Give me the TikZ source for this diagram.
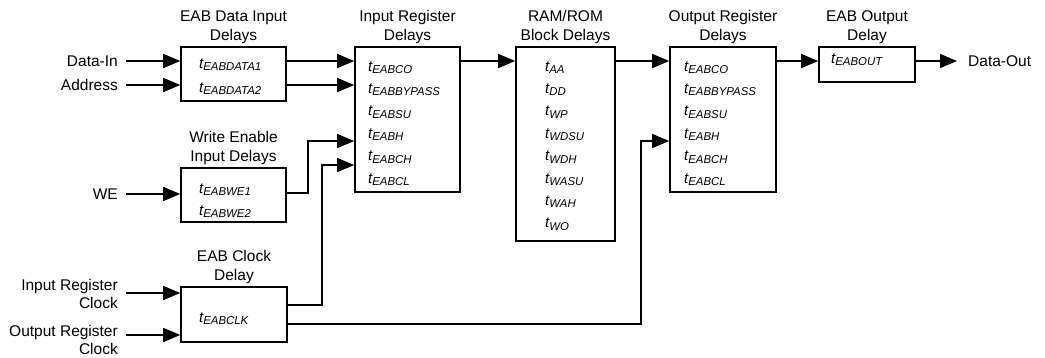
\documentclass[tikz,border=0pt]{standalone}
\usepackage{fontspec}
\setmainfont{Liberation Sans}
\usetikzlibrary{arrows.meta}
\newcommand{\tsb}[1]{{\fontsize{15}{15}\selectfont\itshape t}\raisebox{-2.5pt}{\fontsize{11.4}{11}\selectfont\itshape #1}}
\begin{document}
\begin{tikzpicture}[x=1pt,y=-1pt,
  box/.style={draw, line width=1.6pt, inner sep=0pt},
  ttl/.style={align=center, font=\fontsize{15.5}{18.5}\selectfont, anchor=south, inner sep=0pt, yshift=2.5pt},
  lbl/.style={font=\fontsize{15.5}{18.5}\selectfont, inner xsep=8pt, inner ysep=1pt},
  item/.style={inner sep=0pt, anchor=base west},
  arr/.style={line width=1.6pt, -{Triangle[length=17pt,width=14pt]}},
  wire/.style={line width=1.2pt, -{Triangle[length=17pt,width=14pt]}}]
\useasboundingbox (0,0) rectangle (1045,357);
% level coordinates
\coordinate (y61) at (0,61);
\coordinate (y85) at (0,85);
\coordinate (y141) at (0,141);
\coordinate (y165) at (0,165);
\coordinate (y193) at (0,193);
\coordinate (y293) at (0,293);
\coordinate (y305) at (0,305);
\coordinate (y324) at (0,324);
\coordinate (y335) at (0,335);
% boxes
\node[box, minimum width=105pt, minimum height=54pt] (din) at (233.5,74) {};
\node[box, minimum width=105pt, minimum height=145pt] (inreg) at (407.5,119.5) {};
\node[box, minimum width=99pt, minimum height=194pt] (ram) at (565.5,144) {};
\node[box, minimum width=106pt, minimum height=145pt] (outreg) at (723,119.5) {};
\node[box, minimum width=96pt, minimum height=35pt] (eabout) at (867,64.5) {};
\node[box, minimum width=105pt, minimum height=54pt] (we) at (233.5,195) {};
\node[box, minimum width=106pt, minimum height=55pt] (clk) at (234,314.5) {};
% titles
\node[ttl] (tdin) at (din.north) {EAB Data Input\\Delays};
\node[ttl] (tinreg) at (inreg.north) {Input Register\\Delays};
\node[ttl] (tram) at (ram.north) {RAM/ROM\\Block Delays};
\node[ttl] (toutreg) at (outreg.north) {Output Register\\Delays};
\node[ttl] (teabout) at (eabout.north) {EAB Output\\Delay};
\node[ttl] (twe) at (we.north) {Write Enable\\Input Delays};
\node[ttl] (tclk) at (clk.north) {EAB Clock\\Delay};
% items
\node[item] (d1) at (199,68) {\tsb{EABDATA1}};
\node[item] (d2) at (199,92) {\tsb{EABDATA2}};
\node[item] (w1) at (199,193) {\tsb{EABWE1}};
\node[item] (w2) at (199,215) {\tsb{EABWE2}};
\node[item] (c1) at (199,322) {\tsb{EABCLK}};
\node[item] (o1) at (831,63) {\tsb{EABOUT}};
\foreach \s [count=\i from 0] in {EABCO,EABBYPASS,EABSU,EABH,EABCH,EABCL}{
  \node[item] (ir\i) at (368,71+22.4*\i) {\tsb{\s}};
  \node[item] (or\i) at (684,71+22.4*\i) {\tsb{\s}};
}
\foreach \s [count=\i from 0] in {AA,DD,WP,WDSU,WDH,WASU,WAH,WO}{
  \node[item] (rm\i) at (545,71+22.4*\i) {\tsb{\s}};
}
% external labels
\node[lbl, anchor=east] (lin) at (126,61) {Data-In};
\node[lbl, anchor=east] (ladr) at (126,85) {Address};
\node[lbl, anchor=east] (lwe) at (126,194) {WE};
\node[lbl, anchor=east, align=right] (lirc) at (126,294) {Input Register\\Clock};
\node[lbl, anchor=east, align=right] (lorc) at (126,340) {Output Register\\Clock};
\node[lbl, anchor=west] (dout) at (960,61) {Data-Out};
% connectors
\draw[arr] (lin.east) -- (din.west |- lin.east);
\draw[arr] (ladr.east) -- (din.west |- ladr.east);
\draw[arr] (lwe.east) -- (we.west |- lwe.east);
\draw[arr] (lirc.east |- y293) -- (clk.west |- y293);
\draw[arr] (lorc.east |- y335) -- (clk.west |- y335);
\draw[arr] (din.east |- y61) -- (inreg.west |- y61);
\draw[arr] (din.east |- y85) -- (inreg.west |- y85);
\draw[wire] (we.east |- y193) -| (308,141) -- (inreg.west |- y141);
\draw[wire] (clk.east |- y305) -| (322,165) -- (inreg.west |- y165);
\draw[wire] (clk.east |- y324) -| (641,141) -- (outreg.west |- y141);
\draw[arr] (inreg.east |- y61) -- (ram.west |- y61);
\draw[arr] (ram.east |- y61) -- (outreg.west |- y61);
\draw[arr] (outreg.east |- y61) -- (eabout.west |- y61);
\draw[arr, shorten >=3pt] (eabout.east |- y61) -- (dout.west);
\end{tikzpicture}
\end{document}
